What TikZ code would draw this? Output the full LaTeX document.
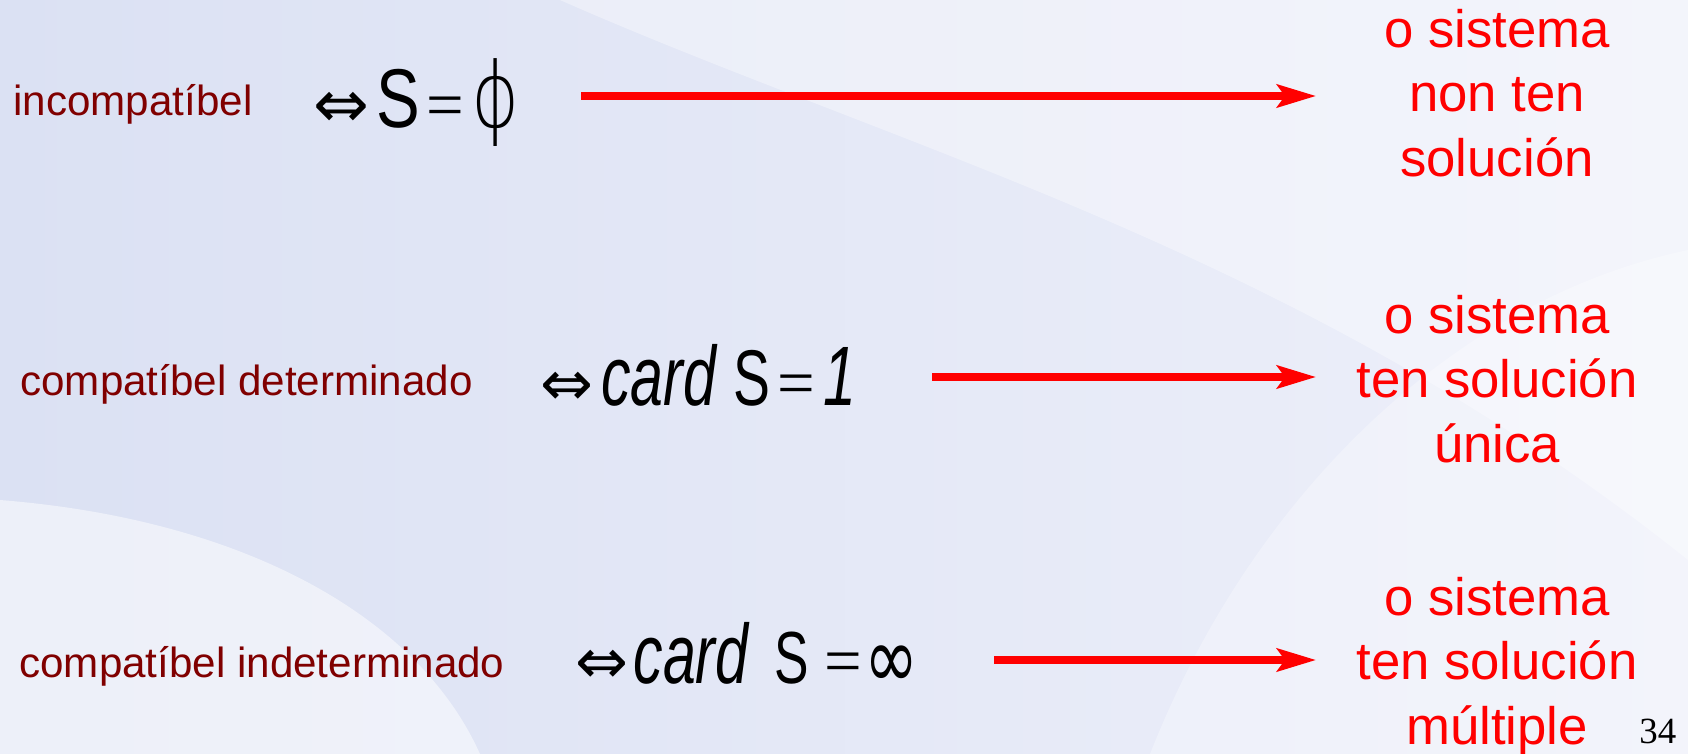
\documentclass[tikz,border=0pt]{standalone}
\usepackage{fontspec}
\usepackage{graphicx}
\setmainfont{Liberation Sans}
\newfontfamily\glyphfont{DejaVu Sans}
\newfontfamily\thinglyphfont{DejaVu Sans ExtraLight}
\newfontfamily\narrowfont[FakeStretch=0.7]{Liberation Sans}
\newfontfamily\timesfont{Liberation Serif}
\usetikzlibrary{arrows.meta, positioning}
\definecolor{labelred}{RGB}{128, 0, 0}
\definecolor{brightred}{RGB}{255, 0, 0}
\definecolor{bgleft}{RGB}{219, 225, 243}
\definecolor{bgright}{RGB}{238, 240, 250}
\tikzset{
  >=Stealth,
  redarrow/.style={-{Stealth[length=7.8mm, width=4.6mm, inset=1.6mm]}, line width=4pt, brightred},
  swoosh/.style={white, opacity=0.35}
}
\newcommand{\iffsym}[1][36]{{\glyphfont\fontsize{#1}{#1}\selectfont ⇔}}
\newcommand{\eqsym}{{\timesfont\fontsize{38}{38}\selectfont =}}

\begin{document}
\begin{tikzpicture}[
    x=0.02cm, y=-0.02cm,
    leftlabel/.style={anchor=base west, inner sep=0pt, text=labelred, font=\fontsize{24}{28}\selectfont},
    equation/.style={anchor=base west, inner sep=0pt, text=black},
    result/.style={anchor=north, inner sep=0pt, align=center, text=brightred, font=\fontsize{30}{36.6}\selectfont}
]
    \useasboundingbox (0, 0) rectangle (1688, 754);
    % slide background
    \shade[left color=bgleft, right color=bgright] (0, 0) rectangle (1688, 754);
    \fill[swoosh] (560, 0) .. controls (900, 150) and (1300, 250) .. (1688, 560) -- (1688, 0) -- cycle;
    \fill[swoosh, opacity=0.5] (0, 754) -- (0, 500) .. controls (250, 520) and (420, 620) .. (480, 754) -- cycle;
    \fill[swoosh, opacity=0.3] (1150, 754) .. controls (1250, 500) and (1450, 300) .. (1688, 250) -- (1688, 754) -- cycle;

    % left column
    \node[leftlabel] (inc) at (13, 115) {incompatíbel};
    \node[leftlabel] (cdet) at (20, 395) {compatíbel determinado};
    \node[leftlabel] (cind) at (19, 677) {compatíbel indeterminado};

    % conditions
    \node[equation] (m1) at (313, 127) {\iffsym[38]\hspace{4pt}\scalebox{1.12}[1]{\narrowfont\fontsize{47.5}{47.5}\selectfont S}\hspace{4pt}\eqsym\hspace{4pt}\scalebox{0.8}[1]{\thinglyphfont\fontsize{52}{52}\selectfont ϕ}};
    \node[equation] (m2) at (540, 405) {\iffsym\hspace{4.5pt}{\narrowfont\fontsize{48}{48}\selectfont\itshape card}\hspace{9.7pt}{\narrowfont\fontsize{45}{45}\selectfont S}\hspace{4.5pt}\eqsym\hspace{4.5pt}{\narrowfont\fontsize{48}{48}\selectfont\itshape 1}};
    \node[equation] (m3) at (575, 683) {\iffsym\hspace{3pt}{\narrowfont\fontsize{48}{48}\selectfont\itshape card}\hspace{15pt}{\narrowfont\fontsize{42}{42}\selectfont S}\hspace{8.5pt}\eqsym\hspace{1.7pt}\raisebox{-3pt}{\scalebox{0.74}[1]{\glyphfont\fontsize{50}{50}\selectfont ∞}}};

    % right column
    \node[result] (r1) at (1497, 9) {o sistema\\non ten\\solución};
    \node[result] (r2) at (1497, 295) {o sistema\\ten solución\\única};
    \node[result] (r3) at (1497, 577) {o sistema\\ten solución\\múltiple};

    % arrows
    \coordinate (s1) at (581, 96);
    \coordinate (e1) at (1316, 96);
    \coordinate (s2) at (932, 377);
    \coordinate (e2) at (1316, 377);
    \coordinate (s3) at (994, 660);
    \coordinate (e3) at (1316, 660);
    \draw[redarrow] (s1) -- (e1);
    \draw[redarrow] (s2) -- (e2);
    \draw[redarrow] (s3) -- (e3);

    \node[anchor=base west, inner sep=0pt, font=\timesfont\fontsize{21}{21}\selectfont] (pg) at (1639, 743) {34};
\end{tikzpicture}
\end{document}
